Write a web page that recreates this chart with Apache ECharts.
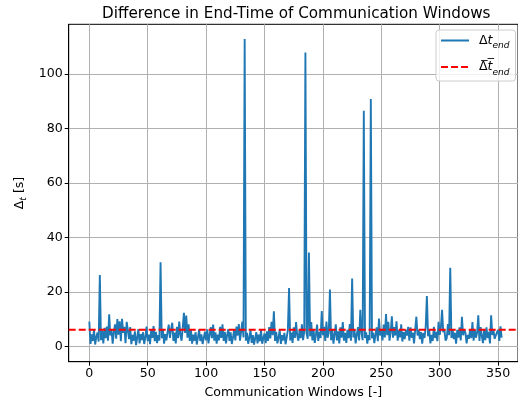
<!DOCTYPE html>
<html>
<head>
<meta charset="utf-8">
<script src="https://cdn.jsdelivr.net/npm/echarts@6/dist/echarts.min.js"></script>
<style>
  html, body { margin: 0; padding: 0; background: #fff; }
  #chart { width: 518px; height: 407px; }
</style>
</head>
<body>
<div id="chart"></div>
<script>
// End-time difference per communication window [s]
const deltaEnd = [
  9.2, 1.0, 4.5, 2.1, 6.3, 0.8, 3.6, 5.2, 1.9, 26.3,
  2.4, 5.8, 1.2, 6.9, 3.1, 7.4, 2.2, 11.9, 4.1, 6.2,
  1.1, 5.3, 8.2, 2.9, 10.1, 4.4, 9.3, 2.0, 10.2, 5.1,
  7.3, 1.3, 9.1, 6.0, 2.8, 7.2, 0.9, 4.3, 2.2, 5.6,
  0.6, 3.3, 6.4, 1.2, 4.6, 2.4, 5.3, 1.0, 3.5, 7.4,
  2.1, 4.4, 0.9, 6.3, 3.2, 7.6, 2.0, 5.4, 1.3, 4.2,
  2.3, 31.0, 3.1, 6.4, 1.1, 4.6, 2.3, 5.4, 8.1, 3.2,
  6.3, 8.8, 2.1, 5.2, 1.2, 7.3, 3.1, 9.2, 4.3, 2.2,
  7.1, 12.4, 5.0, 11.4, 3.3, 8.2, 2.1, 6.2, 1.1, 4.4,
  2.2, 5.3, 0.8, 3.4, 6.3, 2.1, 4.5, 1.0, 3.2, 5.5,
  2.3, 6.4, 1.2, 4.3, 7.2, 3.1, 8.1, 2.2, 5.3, 1.1,
  4.4, 2.3, 7.3, 3.2, 8.2, 2.1, 5.4, 1.2, 4.3, 6.4,
  2.1, 5.3, 1.0, 3.4, 6.2, 2.3, 7.4, 4.1, 8.3, 2.2,
  5.6, 9.2, 3.4, 112.8, 2.2, 5.1, 1.1, 3.3, 6.2, 1.4,
  4.2, 0.8, 3.1, 5.3, 1.2, 4.4, 2.0, 6.1, 1.1, 3.2,
  4.8, 1.3, 5.6, 2.1, 7.2, 3.0, 9.1, 4.2, 13.0, 2.1,
  5.4, 1.2, 3.3, 6.1, 1.0, 4.2, 2.3, 5.1, 0.9, 3.4,
  6.2, 21.5, 2.3, 5.2, 1.4, 7.1, 3.2, 9.0, 4.1, 2.2,
  6.3, 3.1, 8.2, 2.4, 5.5, 107.9, 4.8, 2.9, 34.5, 3.8,
  9.0, 2.3, 6.2, 1.4, 4.3, 8.1, 2.1, 5.4, 3.2, 13.1,
  4.2, 7.3, 2.1, 9.2, 3.3, 5.2, 21.0, 2.4, 6.3, 1.1,
  4.4, 8.2, 2.3, 5.6, 1.2, 7.1, 3.3, 9.0, 2.2, 5.1,
  1.4, 6.2, 3.1, 8.3, 2.2, 25.0, 3.4, 6.3, 1.2, 4.4,
  7.2, 2.3, 13.5, 5.1, 2.4, 86.5, 3.2, 5.3, 1.1, 4.2,
  2.4, 90.8, 3.1, 5.2, 1.3, 4.4, 7.1, 2.0, 10.3, 4.1,
  6.2, 2.3, 8.1, 3.4, 12.0, 4.2, 9.1, 2.2, 5.3, 11.1,
  3.3, 7.2, 4.1, 9.3, 2.2, 6.1, 3.4, 8.2, 1.9, 5.3,
  2.8, 6.2, 4.1, 7.3, 2.2, 7.1, 3.3, 5.2, 1.2, 6.3,
  11.0, 4.1, 6.2, 2.8, 5.4, 1.1, 5.1, 3.2, 7.4, 18.6,
  3.8, 6.1, 1.2, 4.3, 2.1, 7.3, 3.2, 5.4, 2.0, 9.1,
  4.3, 7.2, 13.5, 5.3, 6.1, 2.2, 3.1, 8.3, 4.2, 28.9,
  3.2, 6.4, 2.8, 5.1, 1.1, 6.2, 3.3, 7.1, 2.3, 11.0,
  4.2, 6.3, 5.1, 1.2, 4.3, 2.9, 6.4, 3.1, 9.0, 2.2,
  6.2, 3.3, 5.2, 11.5, 2.1, 7.2, 4.0, 1.3, 6.1, 2.4,
  7.1, 3.2, 5.4, 1.2, 11.5, 4.3, 6.2, 2.9, 3.1, 5.3,
  6.2, 2.1, 7.5, 3.3
];

// Tick labels
const xTicks = [0, 50, 100, 150, 200, 250, 300, 350];
const yTicks = [0, 20, 40, 60, 80, 100];

// Axis extents (data range plus 5% margins)
const X_MIN = -17.65, X_MAX = 367;
const Y_MIN = -5.5, Y_MAX = 118.2;

const meanEnd = deltaEnd.reduce((a, b) => a + b, 0) / deltaEnd.length;

const FONT = 'DejaVu Sans';
const LABEL_SIZE = 12.6;
const gridColor = '#b0b0b0';

const chart = echarts.init(document.getElementById('chart'), null, { renderer: 'canvas' });

chart.setOption({
  animation: false,
  backgroundColor: '#fff',
  title: {
    text: 'Difference in End-Time of Communication Windows',
    left: 97,
    top: 2,
    textStyle: { fontFamily: FONT, fontSize: 15.2, fontWeight: 'normal', color: '#000' }
  },
  grid: {
    left: 68.7, right: 0, top: 24.3, bottom: 45.3,
    show: true, borderColor: '#000', borderWidth: 1, backgroundColor: 'transparent'
  },
  legend: {
    orient: 'vertical',
    left: 436, top: 30,
    padding: [4, 6, 4, 4],
    itemGap: 10,
    itemWidth: 28,
    itemHeight: 14,
    borderColor: '#cccccc', borderWidth: 1, borderRadius: 3,
    backgroundColor: 'rgba(255,255,255,0.8)',
    itemStyle: { color: 'rgba(0,0,0,0)', borderWidth: 0, opacity: 0 },
    data: ['dt', 'dtMean'],
    formatter: function (name) {
      return name === 'dt' ? '{u|Δ}{i|t}{s|end}' : '{u|Δ\u0305}{i|t\u0305}{s|end}';
    },
    textStyle: {
      fontFamily: FONT, fontSize: LABEL_SIZE, color: '#000', padding: [0, 0, 0, 5],
      rich: {
        u: { fontFamily: FONT, fontSize: LABEL_SIZE, color: '#000', lineHeight: 20, verticalAlign: 'middle' },
        i: { fontFamily: FONT, fontSize: LABEL_SIZE, fontStyle: 'italic', color: '#000', lineHeight: 20, verticalAlign: 'middle' },
        s: { fontFamily: FONT, fontSize: 9, fontStyle: 'italic', color: '#000', lineHeight: 20, verticalAlign: 'bottom', padding: [6, 0, 0, 0] }
      }
    }
  },
  xAxis: {
    type: 'value',
    min: X_MIN, max: X_MAX,
    name: 'Communication Windows [-]',
    nameLocation: 'middle',
    nameGap: 25,
    nameTextStyle: { fontFamily: FONT, fontSize: LABEL_SIZE, color: '#000' },
    axisLine: { show: true, onZero: false, lineStyle: { color: '#000', width: 1 } },
    axisTick: { show: true, length: 4, customValues: xTicks, lineStyle: { color: '#000' } },
    axisLabel: { customValues: xTicks, fontFamily: FONT, fontSize: LABEL_SIZE, color: '#000', margin: 6 },
    splitLine: { show: true, lineStyle: { color: gridColor, width: 1 } }
  },
  yAxis: {
    type: 'value',
    min: Y_MIN, max: Y_MAX,
    name: '{u|Δ}{s|t} [s]',
    nameLocation: 'middle',
    nameGap: 41,
    nameRotate: 90,
    nameTextStyle: {
      fontFamily: FONT, fontSize: LABEL_SIZE, color: '#000',
      rich: {
        u: { fontFamily: FONT, fontSize: LABEL_SIZE, color: '#000', lineHeight: 16, verticalAlign: 'middle' },
        s: { fontFamily: FONT, fontSize: 9, fontStyle: 'italic', color: '#000', lineHeight: 16, verticalAlign: 'bottom', padding: [5, 0, 0, 0] }
      }
    },
    axisLine: { show: true, onZero: false, lineStyle: { color: '#000', width: 1 } },
    axisTick: { show: true, length: 4, customValues: yTicks, lineStyle: { color: '#000' } },
    axisLabel: { customValues: yTicks, fontFamily: FONT, fontSize: LABEL_SIZE, color: '#000', margin: 6 },
    splitLine: { show: true, lineStyle: { color: gridColor, width: 1 } }
  },
  series: [
    {
      name: 'dt',
      type: 'line',
      data: deltaEnd.map((v, i) => [i, v]),
      symbol: 'none',
      lineStyle: { color: '#1f77b4', width: 1.9 },
      itemStyle: { color: '#1f77b4' },
      z: 2
    },
    {
      name: 'dtMean',
      type: 'line',
      data: [[X_MIN, meanEnd], [X_MAX, meanEnd]],
      symbol: 'none',
      lineStyle: { color: '#ff0000', width: 1.9, type: [7, 3] },
      itemStyle: { color: '#ff0000' },
      z: 3
    }
  ]
});
</script>
</body>
</html>
